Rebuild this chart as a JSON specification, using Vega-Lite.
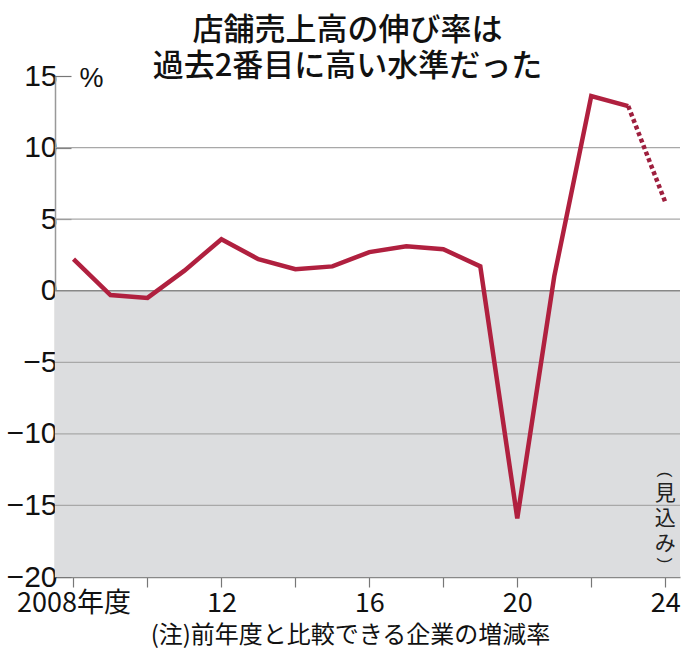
{
  "$schema": "https://vega.github.io/schema/vega-lite/v6.json",
  "width": 625,
  "height": 501,
  "autosize": {"type": "none"},
  "padding": {"left": 55, "top": 76, "right": 16, "bottom": 79},
  "background": "#ffffff",
  "title": {
    "text": ["店舗売上高の伸び率は", "過去2番目に高い水準だった"],
    "font": "Noto Sans CJK JP",
    "fontSize": 31,
    "fontWeight": 500,
    "lineHeight": 36,
    "color": "#111111",
    "anchor": "middle",
    "frame": "group",
    "dx": -20,
    "offset": -22
  },
  "config": {
    "view": {"stroke": null},
    "font": "Liberation Sans Narrow, Noto Sans CJK JP, sans-serif"
  },
  "datasets": {
    "rate": [
      {"year": 2008, "value": 2.2, "part": "actual"},
      {"year": 2009, "value": -0.3, "part": "actual"},
      {"year": 2010, "value": -0.5, "part": "actual"},
      {"year": 2011, "value": 1.4, "part": "actual"},
      {"year": 2012, "value": 3.6, "part": "actual"},
      {"year": 2013, "value": 2.2, "part": "actual"},
      {"year": 2014, "value": 1.5, "part": "actual"},
      {"year": 2015, "value": 1.7, "part": "actual"},
      {"year": 2016, "value": 2.7, "part": "actual"},
      {"year": 2017, "value": 3.1, "part": "actual"},
      {"year": 2018, "value": 2.9, "part": "actual"},
      {"year": 2019, "value": 1.7, "part": "actual"},
      {"year": 2020, "value": -15.9, "part": "actual"},
      {"year": 2021, "value": 1.0, "part": "actual"},
      {"year": 2022, "value": 13.6, "part": "actual"},
      {"year": 2023, "value": 12.9, "part": "actual"},
      {"year": 2023, "value": 12.9, "part": "forecast"},
      {"year": 2024, "value": 6.2, "part": "forecast"}
    ],
    "band": [{"x1": 2007.5, "x2": 2024.4, "y1": 0, "y2": -20}],
    "grid": [{"v": 10}, {"v": 5}, {"v": -5}, {"v": -10}, {"v": -15}],
    "zero": [{"v": 0}],
    "note": [{"year": 2024, "value": -13.4, "label": ["見", "込", "み"]}],
    "paren": [
      {"year": 2024, "value": -12.85, "p": "("},
      {"year": 2024, "value": -18.85, "p": ")"}
    ]
  },
  "layer": [
    {
      "data": {"name": "band"},
      "mark": {"type": "rect", "color": "#dcdddf"},
      "encoding": {
        "x": {"field": "x1", "type": "quantitative", "scale": {"domain": [2007.5, 2024.4], "nice": false, "zero": false}},
        "x2": {"field": "x2"},
        "y": {"field": "y1", "type": "quantitative", "scale": {"domain": [-20, 15], "nice": false}},
        "y2": {"field": "y2"}
      }
    },
    {
      "data": {"name": "grid"},
      "mark": {"type": "rule", "color": "#a8a8a8", "strokeWidth": 1.2},
      "encoding": {"y": {"field": "v", "type": "quantitative"}}
    },
    {
      "data": {"name": "zero"},
      "mark": {"type": "rule", "color": "#888888", "strokeWidth": 1.5},
      "encoding": {"y": {"field": "v", "type": "quantitative"}}
    },
    {
      "data": {"name": "rate"},
      "transform": [{"filter": "datum.part === 'actual'"}],
      "mark": {"type": "line", "color": "#b0203f", "strokeWidth": 4.5, "strokeJoin": "miter", "strokeCap": "butt"},
      "encoding": {
        "x": {
          "field": "year",
          "type": "quantitative",
          "axis": {
            "values": [2008, 2009, 2010, 2011, 2012, 2013, 2014, 2015, 2016, 2017, 2018, 2019, 2020, 2021, 2022, 2023, 2024],
            "labelExpr": "datum.value === 2008 ? '2008年度' : (datum.value % 4 === 0 ? substring(toString(datum.value), 2, 4) : '')",
            "labelOverlap": false,
            "labelFontSize": 27,
            "labelColor": "#111111",
            "labelPadding": 3,
            "labelFont": "Liberation Sans Narrow, Noto Sans CJK JP, sans-serif",
            "grid": false,
            "tickSize": 10,
            "tickColor": "#777777",
            "tickWidth": 1.2,
            "domainColor": "#888888",
            "domainWidth": 1.5,
            "title": "(注)前年度と比較できる企業の増減率",
            "titleFont": "Noto Sans CJK JP",
            "titleFontSize": 24,
            "titleFontWeight": "normal",
            "titleColor": "#111111",
            "titleX": 295,
            "titleY": 58,
            "titleAlign": "center",
            "titleBaseline": "middle"
          }
        },
        "y": {
          "field": "value",
          "type": "quantitative",
          "axis": {
            "values": [15, 10, 5, 0, -5, -10, -15, -20],
            "labelFontSize": 30,
            "labelColor": "#111111",
            "labelPadding": 14,
            "labelFont": "Liberation Sans Narrow, sans-serif",
            "grid": false,
            "tickSize": -16,
            "tickColor": "#777777",
            "tickWidth": 1.2,
            "domainColor": "#999999",
            "domainWidth": 1.5,
            "title": "%",
            "titleAngle": 0,
            "titleX": 24,
            "titleY": 2,
            "titleAlign": "left",
            "titleBaseline": "middle",
            "titleFontSize": 27,
            "titleFontWeight": "normal",
            "titleFont": "Liberation Sans Narrow, sans-serif",
            "titleColor": "#111111"
          }
        }
      }
    },
    {
      "data": {"name": "rate"},
      "transform": [{"filter": "datum.part === 'forecast'"}],
      "mark": {"type": "line", "color": "#9e1f3e", "strokeWidth": 4.5, "strokeDash": [4, 3], "strokeCap": "butt"},
      "encoding": {
        "x": {"field": "year", "type": "quantitative"},
        "y": {"field": "value", "type": "quantitative"}
      }
    },
    {
      "data": {"name": "note"},
      "mark": {"type": "text", "font": "Noto Sans CJK JP", "fontSize": 21, "lineHeight": 25, "color": "#222222", "align": "center", "baseline": "top"},
      "encoding": {
        "x": {"field": "year", "type": "quantitative"},
        "y": {"field": "value", "type": "quantitative"},
        "text": {"field": "label"}
      }
    },
    {
      "data": {"name": "paren"},
      "mark": {"type": "text", "font": "Liberation Sans", "fontSize": 17, "angle": 90, "color": "#222222", "align": "center", "baseline": "middle"},
      "encoding": {
        "x": {"field": "year", "type": "quantitative"},
        "y": {"field": "value", "type": "quantitative"},
        "text": {"field": "p"}
      }
    }
  ]
}
